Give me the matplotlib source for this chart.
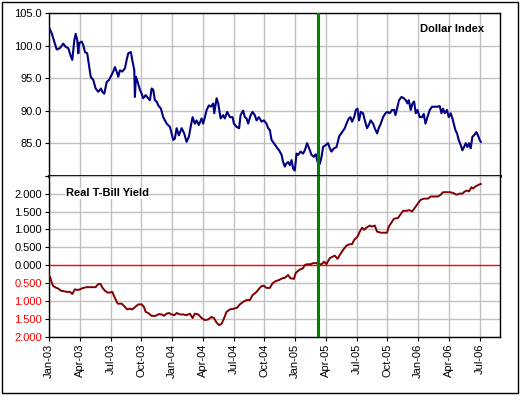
import matplotlib.pyplot as plt
import matplotlib as mpl
from matplotlib.ticker import FixedLocator, FuncFormatter
from matplotlib.patches import Rectangle

mpl.rcParams['font.family'] = ['Liberation Sans', 'DejaVu Sans']

# x values are months since Jan-2003
dollar_month = [0.00, 0.26, 0.52, 0.75, 1.07, 1.39, 1.63, 1.88, 2.14, 2.27, 2.47, 2.60, 2.76, 2.86, 2.95,
                3.19, 3.34, 3.51, 3.73, 3.90, 4.07, 4.32, 4.55, 4.81, 5.07, 5.20, 5.39, 5.63, 5.85, 6.11,
                6.27, 6.43, 6.60, 6.76, 6.92, 7.15, 7.41, 7.58, 7.73, 7.99, 8.12, 8.32, 8.38, 8.48, 8.65,
                8.87, 9.04, 9.19, 9.43, 9.62, 9.85, 10.01, 10.17, 10.33, 10.50, 10.66, 10.92, 11.14, 11.48,
                11.80, 12.12, 12.28, 12.45, 12.67, 12.94, 13.19, 13.42, 13.65, 13.82, 14.01, 14.23, 14.40,
                14.62, 14.89, 15.04, 15.21, 15.38, 15.60, 15.79, 16.02, 16.12, 16.35, 16.51, 16.74, 16.99,
                17.16, 17.38, 17.65, 17.91, 18.04, 18.30, 18.55, 18.69, 18.94, 19.11, 19.27, 19.43, 19.67,
                19.86, 20.08, 20.25, 20.47, 20.74, 20.96, 21.22, 21.38, 21.55, 21.71, 21.94, 22.20, 22.45,
                22.69, 22.84, 23.01, 23.17, 23.33, 23.50, 23.66, 23.82, 23.98, 24.15, 24.31, 24.54, 24.79,
                24.96, 25.18, 25.38, 25.61, 25.84, 26.03, 26.20, 26.42, 26.59, 26.74, 26.98, 27.23, 27.40,
                27.56, 27.79, 28.05, 28.30, 28.37, 28.60, 28.86, 29.02, 29.25, 29.41, 29.57, 29.77, 29.93,
                30.10, 30.25, 30.42, 30.64, 30.81, 31.03, 31.20, 31.39, 31.62, 31.78, 32.01, 32.17, 32.37,
                32.59, 32.83, 33.02, 33.25, 33.47, 33.67, 33.80, 34.00, 34.15, 34.39, 34.61, 34.81, 34.97,
                35.10, 35.29, 35.46, 35.62, 35.78, 35.95, 36.17, 36.40, 36.56, 36.73, 36.92, 37.15, 37.37,
                37.63, 37.90, 38.12, 38.29, 38.44, 38.61, 38.83, 39.00, 39.19, 39.36, 39.49, 39.65, 39.81,
                39.97, 40.17, 40.33, 40.49, 40.66, 40.82, 40.98, 41.14, 41.31, 41.46, 41.70, 41.85, 42.02,
                42.12]
dollar_index = [102.8, 101.9, 100.6, 99.4, 99.6, 100.3, 99.8, 99.6, 98.3, 97.8, 100.8, 101.8, 100.8, 98.8, 100.4,
                100.6, 100.1, 99.0, 98.8, 97.0, 95.2, 94.7, 93.4, 92.9, 93.4, 92.9, 92.6, 94.4, 94.7, 95.5,
                96.0, 96.7, 96.0, 95.2, 96.2, 96.0, 96.5, 97.8, 98.8, 99.0, 97.8, 96.2, 92.1, 95.2, 94.4,
                93.2, 92.6, 91.9, 92.4, 92.0, 91.6, 93.4, 93.2, 91.6, 91.4, 90.8, 90.3, 89.0, 88.0,
                87.5, 85.5, 85.7, 87.3, 86.2, 87.3, 86.5, 85.2, 86.0, 87.5, 89.0, 88.0, 88.5,
                87.8, 88.8, 88.0, 89.0, 90.1, 90.8, 90.6, 91.1, 89.6, 91.9, 91.1, 88.8, 89.3,
                88.8, 89.8, 89.0, 89.0, 88.0, 87.5, 87.3, 89.3, 90.0, 89.0, 88.8, 88.0, 89.3,
                89.8, 89.3, 88.5, 89.0, 88.3, 88.5, 88.0, 87.3, 87.0, 85.5, 85.0, 84.4, 83.9,
                83.2, 82.1, 81.4, 81.9, 82.1, 81.6, 82.4, 81.1, 80.8, 83.4, 83.2, 83.7, 83.4,
                83.9, 85.0, 84.2, 83.2, 82.9, 83.3, 82.1, 81.8, 82.9, 84.4, 84.7, 85.0, 84.2,
                83.7, 84.2, 84.4, 86.0, 86.2, 86.7, 87.3, 88.0, 88.8, 89.0, 88.3, 89.0, 90.1,
                90.3, 88.5, 89.8, 89.6, 88.5, 87.3, 87.8, 88.5, 88.0, 87.3, 86.5, 87.3, 88.0,
                89.0, 89.6, 89.8, 89.6, 90.1, 90.1, 89.3, 90.6, 91.6, 92.1, 91.9, 91.6, 91.1,
                91.6, 90.1, 91.1, 91.4, 89.6, 90.1, 89.0, 89.0, 89.5, 88.0, 89.0, 90.1, 90.6,
                90.6, 90.6, 90.7, 89.6, 90.3, 89.6, 90.1, 89.0, 89.6, 88.8, 88.0, 87.0, 86.5,
                85.5, 84.7, 83.9, 84.4, 85.0, 84.4, 85.0, 84.2, 86.0, 86.2, 86.7, 86.2, 85.5,
                85.2]

tbill_month = [0.00, 0.10, 0.26, 0.42, 0.65, 0.91, 1.17, 1.39, 1.73, 2.05, 2.27, 2.53, 2.80, 3.02, 3.34,
               3.68, 4.16, 4.55, 4.81, 5.04, 5.20, 5.46, 5.72, 5.95, 6.17, 6.43, 6.70, 7.09, 7.41, 7.63,
               7.90, 8.12, 8.38, 8.71, 9.04, 9.26, 9.43, 9.68, 10.01, 10.40, 10.72, 10.99, 11.21, 11.47,
               11.70, 11.96, 12.22, 12.48, 12.77, 13.09, 13.42, 13.75, 14.01, 14.23, 14.56, 14.89, 15.21,
               15.53, 15.86, 16.09, 16.35, 16.60, 16.84, 17.06, 17.32, 17.65, 18.04, 18.36, 18.62, 18.94,
               19.27, 19.60, 19.86, 20.25, 20.50, 20.74, 20.96, 21.22, 21.55, 21.81, 22.13, 22.45, 22.78,
               23.01, 23.33, 23.56, 23.89, 24.08, 24.40, 24.79, 24.96, 25.18, 25.51, 25.77, 26.10, 26.32,
               26.59, 26.84, 27.07, 27.23, 27.40, 27.66, 27.88, 28.15, 28.37, 28.69, 29.02, 29.35, 29.57,
               29.77, 30.10, 30.32, 30.55, 30.74, 30.97, 31.30, 31.52, 31.78, 32.01, 32.37, 32.69, 32.98,
               33.15, 33.41, 33.66, 34.05, 34.32, 34.54, 34.87, 35.13, 35.42, 35.68, 35.95, 36.27, 36.59,
               36.98, 37.24, 37.56, 37.95, 38.22, 38.44, 38.77, 39.09, 39.42, 39.75, 40.07, 40.33, 40.56,
               40.82, 40.98, 41.21, 41.37, 41.60, 41.80, 41.95, 42.12]
tbill_yield = [-0.27, -0.32, -0.48, -0.58, -0.62, -0.65, -0.71, -0.72, -0.74, -0.74, -0.80, -0.67, -0.69, -0.67, -0.63,
               -0.61, -0.61, -0.61, -0.52, -0.52, -0.62, -0.71, -0.76, -0.76, -0.74, -0.91, -1.07, -1.07, -1.16, -1.23,
               -1.21, -1.23, -1.17, -1.09, -1.09, -1.16, -1.30, -1.33, -1.41, -1.41, -1.36, -1.37, -1.41, -1.35,
               -1.33, -1.37, -1.39, -1.33, -1.37, -1.37, -1.39, -1.35, -1.47, -1.35, -1.37, -1.47, -1.53,
               -1.51, -1.44, -1.47, -1.60, -1.67, -1.63, -1.49, -1.30, -1.23, -1.21, -1.18, -1.09, -1.02,
               -0.97, -0.97, -0.83, -0.74, -0.65, -0.58, -0.57, -0.63, -0.63, -0.50, -0.44, -0.41, -0.36,
               -0.35, -0.27, -0.36, -0.38, -0.21, -0.13, -0.08, 0.01, 0.03, 0.03, 0.06, 0.06, 0.03,
               0.03, 0.10, 0.03, 0.12, 0.20, 0.24, 0.27, 0.18, 0.29, 0.43, 0.55, 0.59, 0.59,
               0.71, 0.80, 0.94, 1.05, 0.99, 1.05, 1.11, 1.08, 1.11, 0.94, 0.91, 0.91, 0.91,
               1.08, 1.19, 1.30, 1.32, 1.43, 1.52, 1.52, 1.54, 1.50, 1.60, 1.71, 1.83, 1.86,
               1.86, 1.92, 1.92, 1.92, 1.97, 2.04, 2.04, 2.04, 2.02, 1.97, 2.00, 2.00, 2.06,
               2.09, 2.06, 2.18, 2.14, 2.20, 2.23, 2.25, 2.27]

tick_months = list(range(0, 43, 3))
tick_labels = ['Jan-03', 'Apr-03', 'Jul-03', 'Oct-03', 'Jan-04', 'Apr-04', 'Jul-04', 'Oct-04',
               'Jan-05', 'Apr-05', 'Jul-05', 'Oct-05', 'Jan-06', 'Apr-06', 'Jul-06']
yield_ticks = [-2.0, -1.5, -1.0, -0.5, 0.0, 0.5, 1.0, 1.5, 2.0, 2.5]
marker_month = 26.2  # green vertical line, early Mar-05

fig = plt.figure(figsize=(5.21, 3.96), dpi=100)
fig.patches.append(Rectangle((2 / 521, 3 / 396), 516 / 521, 391 / 396, transform=fig.transFigure,
                             fill=False, edgecolor='black', linewidth=1.0))

left, width = 49 / 521, 451 / 521
split = 1 - 175.7 / 396
bottom = 1 - 337 / 396
top = 1 - 13 / 396
ax1 = fig.add_axes([left, split, width, top - split])
ax2 = fig.add_axes([left, bottom, width, split - bottom])

grid_col = '#C0C0C0'

# dollar index
ax1.plot(dollar_month, dollar_index, color='#000080', linewidth=1.5, zorder=3)
ax1.set_xlim(0, 44)
ax1.set_ylim(80, 105)
ax1.yaxis.set_major_locator(FixedLocator([80, 85, 90, 95, 100, 105]))
ax1.yaxis.set_major_formatter(FuncFormatter(lambda v, p: '' if v == 80 else '{:.1f}'.format(v)))
ax1.xaxis.set_major_locator(FixedLocator(tick_months))
ax1.tick_params(axis='x', length=0, labelbottom=False)
ax1.tick_params(axis='y', direction='out', length=3, width=0.8, pad=2, labelsize=8)
ax1.grid(True, color=grid_col, linewidth=1.0, zorder=0)
ax1.set_axisbelow(True)
ax1.axvline(marker_month, color='#008000', linewidth=2.2, zorder=4)
ax1.text(0.965, 0.9, 'Dollar Index', transform=ax1.transAxes, ha='right', va='center',
         fontsize=8, fontweight='bold')
for s in ['top', 'left', 'right']:
    ax1.spines[s].set_linewidth(1.0)
ax1.spines['bottom'].set_linewidth(2.0)
ax1.spines['bottom'].set_zorder(5)

# real t-bill yield
ax2.plot(tbill_month, tbill_yield, color='#800000', linewidth=1.4, zorder=3)
ax2.set_xlim(0, 44)
ax2.set_ylim(-2.0, 2.5)
ax2.yaxis.set_major_locator(FixedLocator(yield_ticks))
ax2.yaxis.set_major_formatter(FuncFormatter(lambda v, p: '' if v > 2.2 else '{:.3f}'.format(abs(v))))
ax2.xaxis.set_major_locator(FixedLocator(tick_months))
ax2.set_xticklabels(tick_labels, rotation=90)
ax2.tick_params(axis='x', direction='out', length=3, width=0.8, pad=2, labelsize=8)
ax2.tick_params(axis='y', direction='out', length=3, width=0.8, pad=2, labelsize=8)
ax2.grid(True, axis='x', color=grid_col, linewidth=1.0, zorder=0)
for v in yield_ticks:
    if v != 0:
        ax2.axhline(v, color=grid_col, linewidth=1.0, zorder=0.5)
ax2.axhline(0, color='#FF0000', linewidth=1.0, zorder=2)
ax2.set_axisbelow(True)
ax2.axvline(marker_month, color='#008000', linewidth=2.2, zorder=4)
for lab, v in zip(ax2.get_yticklabels(), ax2.get_yticks()):
    if v < 0:
        lab.set_color('#FF0000')
ax2.text(0.037, 0.89, 'Real T-Bill Yield', transform=ax2.transAxes, ha='left', va='center',
         fontsize=8, fontweight='bold',
         bbox=dict(facecolor='white', edgecolor='none', pad=0.5), zorder=6)
for s in ['bottom', 'left', 'right']:
    ax2.spines[s].set_linewidth(1.0)
ax2.spines['top'].set_visible(False)

fig.savefig('out.png', dpi=100)
